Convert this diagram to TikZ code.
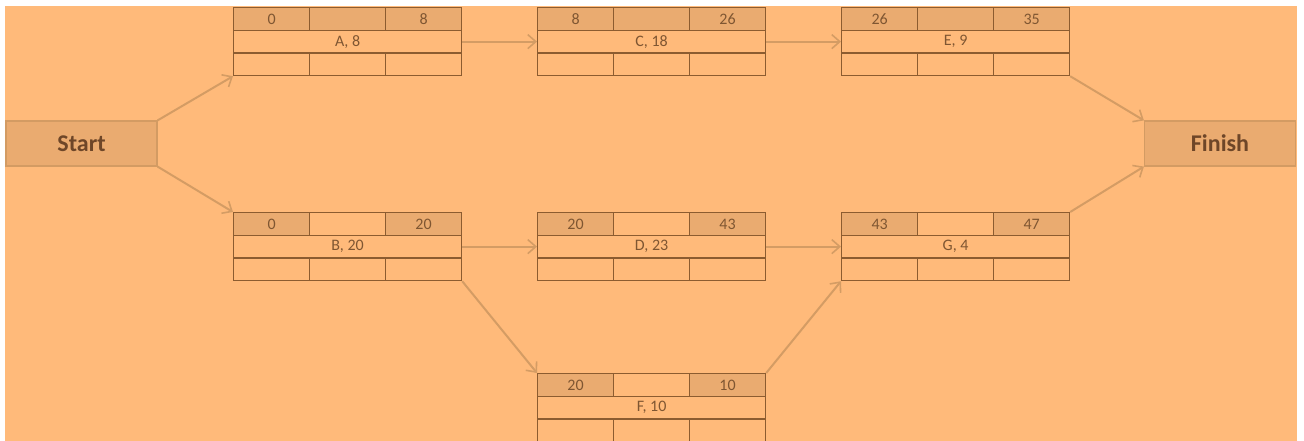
\documentclass[tikz,border=0pt]{standalone}
\usepackage{fontspec}
\setmainfont{Carlito}
\usetikzlibrary{arrows.meta}
\definecolor{bgc}{HTML}{FFBA7A}
\definecolor{darkc}{HTML}{EAAB70}
\definecolor{linec}{HTML}{8C5C30}
\definecolor{txtc}{HTML}{7F5632}
\definecolor{arrc}{HTML}{D49C64}
\definecolor{sebord}{HTML}{D39B63}
\definecolor{setxt}{HTML}{6E4628}
\tikzset{
  actbox/.style={draw=linec, line width=1.2pt, minimum width=228pt, minimum height=68pt, inner sep=0pt, anchor=north west},
  topcell/.style={draw=linec, line width=1.2pt, minimum width=76pt, minimum height=22.67pt, inner sep=0pt, text=txtc, font=\fontsize{16}{18}\selectfont},
  midcell/.style={draw=linec, line width=1.2pt, minimum width=228pt, minimum height=22.67pt, inner sep=0pt, text=txtc, font=\fontsize{16}{18}\selectfont},
  termbox/.style={draw=sebord, line width=1.2pt, fill=darkc, minimum width=151pt, minimum height=45pt, inner sep=0pt, text=setxt, font=\fontsize{24}{28}\selectfont\bfseries},
  conn/.style={draw=arrc, line width=2pt, -{Straight Barb[length=8pt,width=14pt,line width=1.6pt]}}
}
\newcommand\actbox[7]{%
  \node[actbox] (#1) at (#2,#3) {};
  \node[topcell, fill=darkc, anchor=north west] (#1-es) at (#1.north west) {#4};
  \node[topcell, fill=#7, anchor=north] (#1-sl) at (#1.north) {};
  \node[topcell, fill=darkc, anchor=north east] (#1-ef) at (#1.north east) {#5};
  \node[midcell, anchor=center] (#1-lab) at (#1.center) {#6};
  \node[topcell, anchor=south west] (#1-ls) at (#1.south west) {};
  \node[topcell, anchor=south] (#1-tf) at (#1.south) {};
  \node[topcell, anchor=south east] (#1-lf) at (#1.south east) {};
}
\begin{document}
\begin{tikzpicture}[x=1pt,y=-1pt]
\useasboundingbox (0,0) rectangle (1304,440);
\clip (0,0) rectangle (1304,440);
\fill[white] (0,0) rectangle (1304,440);
\fill[bgc] (5,6) rectangle (1297,441);
\node[termbox] (start) at (81.5,143.5) {Start};
\node[termbox] (finish) at (1220,143.5) {Finish};
\actbox{A}{233}{7}{0}{8}{A, 8}{darkc}
\actbox{C}{537}{7}{8}{26}{C, 18}{darkc}
\actbox{E}{841}{7}{26}{35}{E, 9}{darkc}
\actbox{B}{233}{212}{0}{20}{B, 20}{bgc}
\actbox{D}{537}{212}{20}{43}{D, 23}{bgc}
\actbox{G}{841}{212}{43}{47}{G, 4}{bgc}
\actbox{F}{537}{373}{20}{10}{F, 10}{bgc}
\draw[conn] (start.north east) -- (A.south west);
\draw[conn] (start.south east) -- (B.north west);
\draw[conn] (A.east) -- (C.west);
\draw[conn] (C.east) -- (E.west);
\draw[conn] (B.east) -- (D.west);
\draw[conn] (D.east) -- (G.west);
\draw[conn] (B.south east) -- (F.north west);
\draw[conn] (F.north east) -- (G.south west);
\draw[conn] (E.south east) -- (finish.north west);
\draw[conn] (G.north east) -- (finish.south west);
\end{tikzpicture}
\end{document}
